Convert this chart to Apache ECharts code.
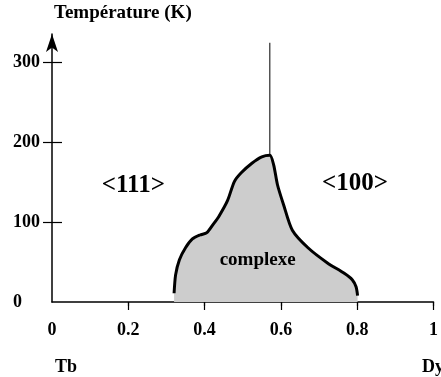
<!DOCTYPE html>
<html>
<head>
<meta charset="utf-8">
<script src="https://cdn.jsdelivr.net/npm/echarts@6/dist/echarts.min.js"></script>
<style>html,body{margin:0;padding:0;background:#fff;}#chart{width:441px;height:377px;}</style>
</head>
<body>
<div id="chart"></div>
<script>
// ---- data ----
const xTickValues = [0.2, 0.4, 0.6, 0.8, 1];
const xLabelValues = [0, 0.2, 0.4, 0.6, 0.8, 1];
const yTickValues = [100, 200, 300];
const yLabelValues = [0, 100, 200, 300];
// boundary of the "complexe" region (x = Dy fraction, T in K)
const boundaryX = [0.320, 0.324, 0.334, 0.350, 0.368, 0.388, 0.406, 0.422, 0.437, 0.460, 0.478, 0.496, 0.524, 0.550, 0.571, 0.581, 0.591, 0.607, 0.630, 0.671, 0.722, 0.766, 0.787, 0.797, 0.801];
const boundaryT = [11, 34, 53, 68, 79, 84, 87, 97, 107, 127, 151, 162, 174, 182, 184, 172, 147, 122, 90, 68, 49, 36, 28, 19, 8];
// vertical transition line <111> / <100>
const transitionX = [0.571, 0.571];
const transitionT = [184, 325];
// region labels
const regionNames = ['<111>', '<100>'];
const regionX = [0.213, 0.794];
const regionT = [146, 148];
const innerName = ['complexe'];
const innerX = [0.539];
const innerT = [52];
const titleText = 'Température (K)';
const leftEnd = 'Tb';
const rightEnd = 'Dy';

const FONT = '"Liberation Serif", "Times New Roman", serif';
const chart = echarts.init(document.getElementById('chart'), null, {renderer: 'canvas'});

const zip = (a, b) => a.map((v, i) => [v, b[i]]);
const xBase = {type: 'value', min: 0, max: 1, splitLine: {show: false}};
const yBase = {type: 'value', min: 0, max: 336, splitLine: {show: false}};

chart.setOption({
  animation: false,
  backgroundColor: '#fff',
  grid: {left: 52, right: -1, top: 34, bottom: 75, containLabel: false},
  title: [
    {text: titleText, left: 54, top: 4, padding: 0,
     textStyle: {fontFamily: FONT, fontWeight: 'bold', fontSize: 19, color: '#000'}},
    {text: leftEnd, left: 55, top: 358, padding: 0,
     textStyle: {fontFamily: FONT, fontWeight: 'bold', fontSize: 18, color: '#000'}},
    {text: rightEnd, left: 422, top: 358, padding: 0,
     textStyle: {fontFamily: FONT, fontWeight: 'bold', fontSize: 18, color: '#000'}}
  ],
  xAxis: [
    Object.assign({}, xBase, {
      axisLine: {show: true, onZero: false, lineStyle: {color: '#000', width: 1.5}},
      axisTick: {show: true, inside: false, length: 8, customValues: xTickValues, lineStyle: {color: '#000', width: 1.2}},
      axisLabel: {show: true, customValues: xLabelValues, margin: 19,
        fontFamily: FONT, fontWeight: 'bold', fontSize: 18, color: '#000',
        formatter: v => String(v)}
    }),
    Object.assign({}, xBase, {
      axisLine: {show: false},
      axisTick: {show: true, inside: true, length: 4, customValues: xTickValues, lineStyle: {color: '#000', width: 1.2}},
      axisLabel: {show: false}
    })
  ],
  yAxis: [
    Object.assign({}, yBase, {
      axisLine: {show: true, onZero: false, symbol: ['none', 'arrow'], symbolSize: [9, 18],
        lineStyle: {color: '#000', width: 1.5}},
      axisTick: {show: true, inside: true, length: 10, customValues: yTickValues, lineStyle: {color: '#000', width: 1.2}},
      axisLabel: {show: true, customValues: yLabelValues, align: 'left', margin: 39,
        fontFamily: FONT, fontWeight: 'bold', fontSize: 18, color: '#000'}
    }),
    Object.assign({}, yBase, {
      position: 'left',
      axisLine: {show: false},
      axisTick: {show: true, inside: false, length: 9, customValues: yTickValues, lineStyle: {color: '#000', width: 1.2}},
      axisLabel: {show: false}
    })
  ],
  series: [
    {
      type: 'line', xAxisIndex: 0, yAxisIndex: 0,
      data: zip(boundaryX, boundaryT),
      smooth: 0.25, showSymbol: false, symbol: 'none',
      lineStyle: {color: '#000', width: 3},
      areaStyle: {color: '#cdcdcd', opacity: 1, origin: 'start'},
      z: 3
    },
    {
      type: 'line', xAxisIndex: 0, yAxisIndex: 0,
      data: zip(transitionX, transitionT),
      showSymbol: false, symbol: 'none',
      lineStyle: {color: '#000', width: 1},
      z: 2
    },
    {
      type: 'scatter', xAxisIndex: 0, yAxisIndex: 0,
      symbolSize: 1, itemStyle: {color: 'rgba(0,0,0,0)', opacity: 1},
      data: regionNames.map((n, i) => ({name: n, value: [regionX[i], regionT[i]]})),
      label: {show: true, position: 'inside', formatter: p => p.name, opacity: 1,
        fontFamily: FONT, fontWeight: 'bold', fontSize: 25, color: '#000'},
      z: 5
    },
    {
      type: 'scatter', xAxisIndex: 0, yAxisIndex: 0,
      symbolSize: 1, itemStyle: {color: 'rgba(0,0,0,0)', opacity: 1},
      data: innerName.map((n, i) => ({name: n, value: [innerX[i], innerT[i]]})),
      label: {show: true, position: 'inside', formatter: p => p.name, opacity: 1,
        fontFamily: FONT, fontWeight: 'bold', fontSize: 19, color: '#000'},
      z: 5
    }
  ]
});
</script>
</body>
</html>
